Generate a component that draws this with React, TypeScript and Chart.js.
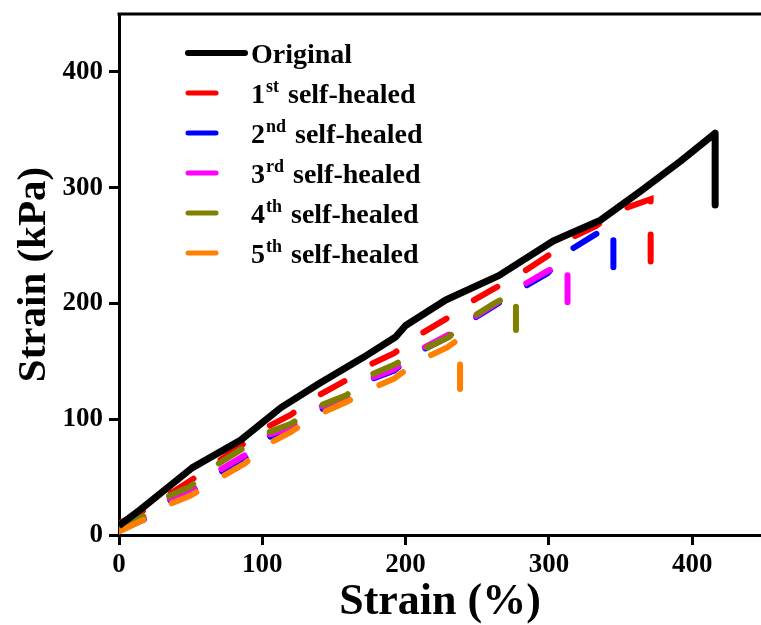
import React, { useEffect, useRef } from "react";
import Chart from "chart.js/auto";

// strain (%) / stress (kPa)
const origX = [0, 15, 51, 85, 113, 140, 170, 193, 200, 228, 265, 303, 336, 364, 392, 416, 416];
const origY = [8, 22, 58, 82, 110, 131, 153, 171, 181, 203, 224, 254, 272, 297, 323, 347, 285];

const redX = [0, 17, 50, 86, 103, 120, 137, 159, 175, 192, 207, 230, 245, 262, 278, 299, 316, 333, 348, 371, 371];
const redY = [10, 21, 47, 78, 93, 104, 119, 134, 147, 157, 171, 188, 201, 213, 224, 241, 257, 267, 280, 290, 235];

const blueX = [0, 17, 32, 50, 66, 88, 103, 120, 137, 159, 175, 192, 207, 230, 245, 262, 278, 299, 316, 333, 345, 345];
const blueY = [4, 13, 28, 36, 51, 66, 84, 91, 106, 119, 134, 142, 157, 171, 185, 198, 211, 226, 247, 260, 267, 229];

const magX = [0, 17, 32, 50, 66, 88, 103, 120, 137, 159, 175, 192, 207, 230, 245, 262, 278, 299, 313, 313];
const magY = [5, 14, 30, 38, 53, 69, 86, 93, 109, 120, 135, 143, 158, 173, 186, 199, 213, 228, 236, 201];

const oliveX = [0, 17, 32, 50, 66, 88, 103, 120, 137, 159, 175, 192, 207, 230, 245, 262, 277, 277];
const oliveY = [6, 16, 32, 42, 59, 76, 88, 96, 110, 121, 138, 147, 157, 171, 187, 200, 210, 177];

const orangeX = [0, 17, 32, 50, 66, 88, 103, 120, 137, 159, 175, 192, 207, 229, 238, 238];
const orangeY = [3, 13, 25, 34, 46, 62, 78, 89, 103, 115, 126, 135, 149, 162, 170, 126];

const xTickValues = [0, 100, 200, 300, 400];
const yTickValues = [0, 100, 200, 300, 400];

const legendNums = ["", "1", "2", "3", "4", "5"];
const legendSups = ["", "st", "nd", "rd", "th", "th"];
const legendTexts = ["Original", "self-healed", "self-healed", "self-healed", "self-healed", "self-healed"];
const colors = ["#000000", "#ff0000", "#0000ff", "#ff00ff", "#808000", "#ff8000"];

const FONT = '"Liberation Serif", "Times New Roman", serif';

const pts = (xs: number[], ys: number[]) => xs.map((x, i) => ({ x, y: ys[i] }));

const topBorder = {
  id: "topBorder",
  afterDraw(chart: any) {
    const { ctx, chartArea } = chart;
    ctx.save();
    ctx.strokeStyle = "#000";
    ctx.lineWidth = 3;
    ctx.beginPath();
    ctx.moveTo(chartArea.left - 1.5, chartArea.top);
    ctx.lineTo(chartArea.right, chartArea.top);
    ctx.stroke();
    ctx.restore();
  },
};

const inlineLegend = {
  id: "inlineLegend",
  afterDraw(chart: any) {
    const ctx = chart.ctx;
    const size = 28;
    ctx.save();
    legendTexts.forEach((text, i) => {
      const y = 53 + i * 40;
      ctx.strokeStyle = colors[i];
      ctx.lineWidth = i === 0 ? 6 : 5;
      ctx.lineCap = "round";
      ctx.beginPath();
      ctx.moveTo(188, y);
      ctx.lineTo(i === 0 ? 245 : 216, y);
      ctx.stroke();

      const base = y + 10;
      let x = 251;
      ctx.fillStyle = "#000";
      ctx.textBaseline = "alphabetic";
      ctx.textAlign = "left";
      if (legendNums[i]) {
        ctx.font = `bold ${size}px ${FONT}`;
        ctx.fillText(legendNums[i], x, base);
        x += ctx.measureText(legendNums[i]).width;
        ctx.font = `bold ${Math.round(size * 0.64)}px ${FONT}`;
        ctx.fillText(legendSups[i], x + 1, base - size * 0.4);
        x += ctx.measureText(legendSups[i]).width + 10;
      }
      ctx.font = `bold ${size}px ${FONT}`;
      ctx.fillText(text, x, base);
    });
    ctx.restore();
  },
};

const dashed = (label: string, data: any[], color: string, order: number) => ({
  label,
  data,
  borderColor: color,
  backgroundColor: color,
  borderWidth: 6,
  borderDash: [27, 33],
  borderCapStyle: "round" as const,
  pointRadius: 0,
  tension: 0,
  order,
});

export default function App() {
  const ref = useRef<HTMLCanvasElement>(null!);

  useEffect(() => {
    const tickFont = { family: FONT, size: 27, weight: "bold" as const };
    const chart = new Chart(ref.current, {
      type: "line",
      data: {
        datasets: [
          {
            label: "Original",
            data: pts(origX, origY),
            borderColor: "#000",
            backgroundColor: "#000",
            borderWidth: 7,
            borderJoinStyle: "round",
            pointRadius: 0,
            tension: 0,
            order: 0,
          },
          dashed("1st self-healed", pts(redX, redY), colors[1], 5),
          dashed("2nd self-healed", pts(blueX, blueY), colors[2], 4),
          dashed("3rd self-healed", pts(magX, magY), colors[3], 3),
          dashed("4th self-healed", pts(oliveX, oliveY), colors[4], 2),
          dashed("5th self-healed", pts(orangeX, orangeY), colors[5], 1),
        ],
      },
      options: {
        animation: false,
        responsive: true,
        maintainAspectRatio: false,
        layout: { padding: { top: 14, left: 0, right: 0, bottom: 0 } },
        plugins: { legend: { display: false }, tooltip: { enabled: false } },
        scales: {
          x: {
            type: "linear",
            min: 0,
            max: 448,
            afterBuildTicks: (s: any) => {
              s.ticks = xTickValues.map((value) => ({ value }));
            },
            afterFit: (s: any) => {
              s.height = 90;
              s.paddingLeft = 0;
              s.paddingRight = 0;
            },
            ticks: { color: "#000", font: tickFont, padding: 4, maxRotation: 0 },
            grid: { drawOnChartArea: false, tickLength: 10, tickWidth: 3, tickColor: "#000" },
            border: { display: true, width: 3, color: "#000" },
            title: {
              display: true,
              text: "Strain (%)",
              color: "#000",
              font: { family: FONT, size: 44, weight: "bold", lineHeight: 1.0 },
              padding: { top: 0, bottom: 0 },
            },
          },
          y: {
            type: "linear",
            min: 0,
            max: 450,
            afterBuildTicks: (s: any) => {
              s.ticks = yTickValues.map((value) => ({ value }));
            },
            afterFit: (s: any) => {
              s.width = 119;
              s.paddingTop = 0;
              s.paddingBottom = 0;
            },
            ticks: { color: "#000", font: tickFont, padding: 6 },
            grid: { drawOnChartArea: false, tickLength: 10, tickWidth: 3, tickColor: "#000" },
            border: { display: true, width: 3, color: "#000" },
            title: {
              display: true,
              text: "Strain (kPa)",
              color: "#000",
              font: { family: FONT, size: 41, weight: "bold" },
              padding: { top: 10, bottom: 0 },
            },
          },
        },
      },
      plugins: [topBorder, inlineLegend],
    });
    return () => {
      chart.destroy();
    };
  }, []);

  return (
    <div style={{ position: "absolute", left: 0, top: 0, width: 761, height: 625, background: "#fff" }}>
      <canvas ref={ref} />
    </div>
  );
}
